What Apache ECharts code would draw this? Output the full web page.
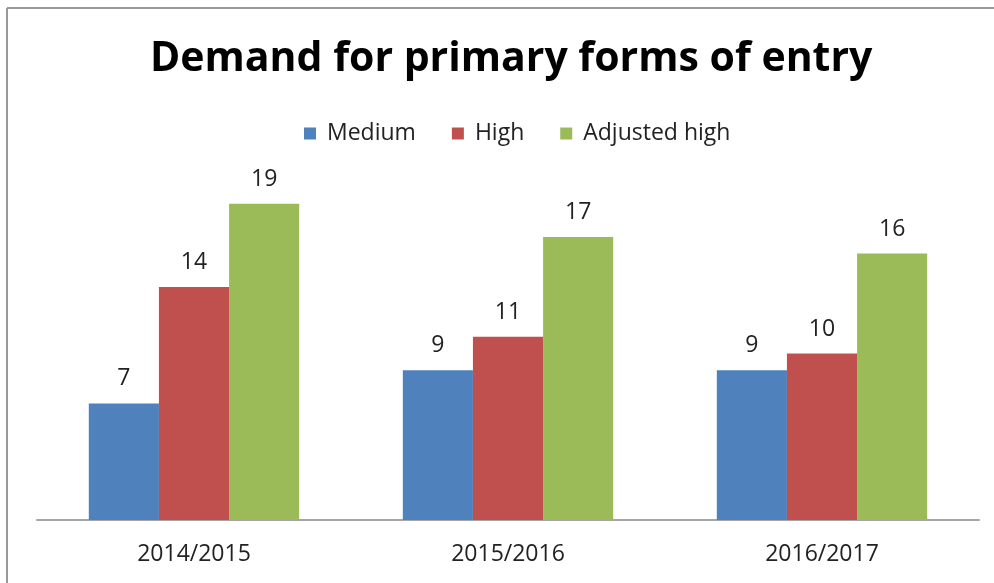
<!DOCTYPE html>
<html>
<head>
    <meta charset="utf-8">
    <title>Demand for primary forms of entry</title>
    <script src="https://cdn.jsdelivr.net/npm/echarts@6/dist/echarts.min.js"></script>
    <style type="text/css">
        body { margin: 0; background: #fff; }
        #main { width: 994px; height: 583px; }
    </style>
</head>
<body>
<div id="main"></div>
<script type="text/javascript">
    var years = ['2014/2015', '2015/2016', '2016/2017'];
    var medium = [7, 9, 9];
    var high = [14, 11, 10];
    var adjustedHigh = [19, 17, 16];

    var font = 'Open Sans';
    var label = { show: true, position: 'top', distance: 13, fontSize: 23, color: '#222', fontFamily: font };

    var myChart = echarts.init(document.getElementById('main'));
    myChart.setOption({
        animation: false,
        title: {
            text: 'Demand for primary forms of entry',
            left: 145,
            top: 34,
            textStyle: { fontSize: 41, fontWeight: 'bold', color: '#000', fontFamily: font }
        },
        legend: {
            top: 117,
            left: 299,
            itemWidth: 12,
            itemHeight: 12,
            itemGap: 36,
            icon: 'rect',
            textStyle: { fontSize: 23, color: '#222', fontFamily: font, padding: [0, 0, 0, 6] }
        },
        grid: { left: 37, right: 15, top: 187, bottom: 63 },
        xAxis: {
            type: 'category',
            data: years,
            axisLine: { lineStyle: { color: '#a6a6a6', width: 2 } },
            axisTick: { show: false },
            axisLabel: { fontSize: 23, color: '#222', margin: 23, fontFamily: font }
        },
        yAxis: { type: 'value', min: 0, max: 20, show: false },
        graphic: [
            { type: 'line', shape: { x1: 7, y1: 8, x2: 7, y2: 583 }, style: { stroke: '#999', lineWidth: 2 } },
            { type: 'line', shape: { x1: 7, y1: 8, x2: 994, y2: 8 }, style: { stroke: '#999', lineWidth: 2 } }
        ],
        series: [
            { name: 'Medium', type: 'bar', data: medium, itemStyle: { color: '#4f81bd' }, label: label, barGap: '0%', barCategoryGap: '33%' },
            { name: 'High', type: 'bar', data: high, itemStyle: { color: '#c0504d' }, label: label },
            { name: 'Adjusted high', type: 'bar', data: adjustedHigh, itemStyle: { color: '#9bbb59' }, label: label }
        ]
    });
</script>
</body>
</html>
